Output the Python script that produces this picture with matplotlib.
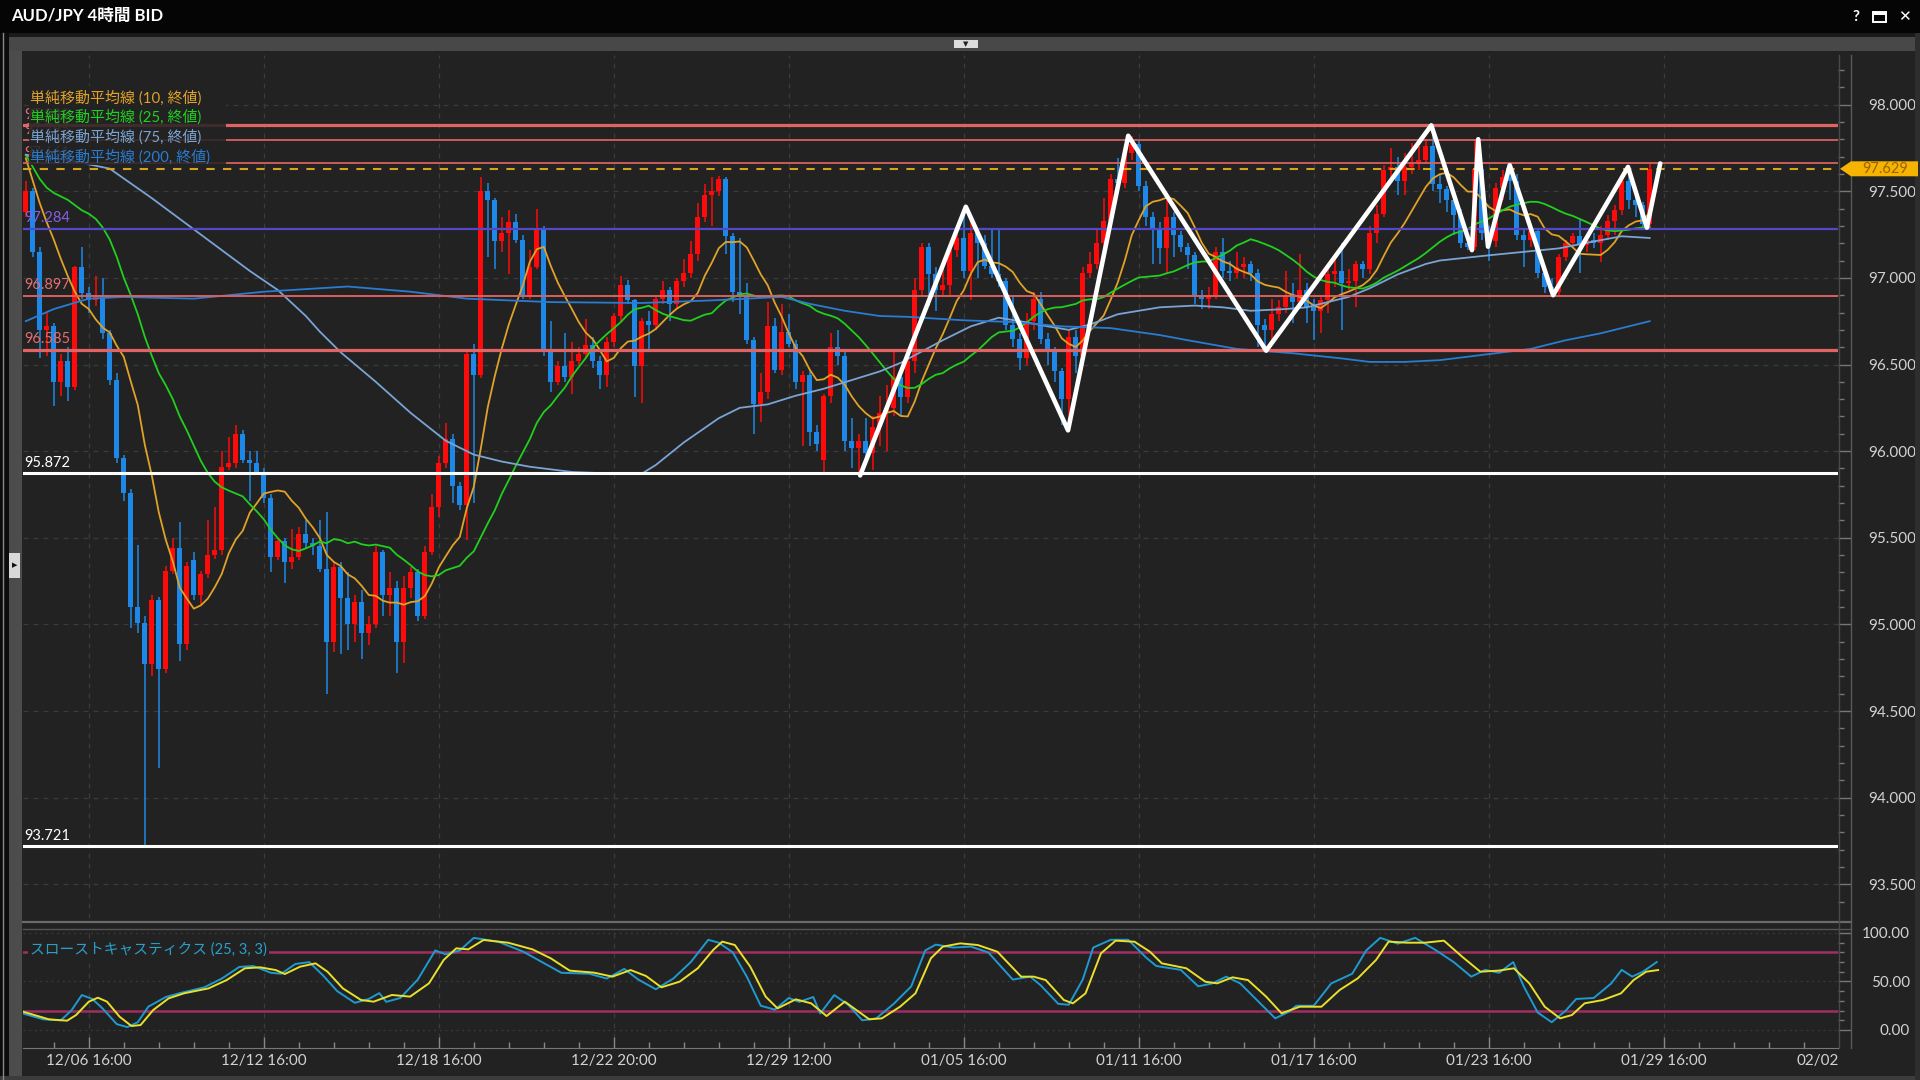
import numpy as np
import pandas as pd
import matplotlib
matplotlib.use("Agg")
import matplotlib.pyplot as plt
from matplotlib.patches import Rectangle, Polygon
from matplotlib.lines import Line2D

plt.rcParams['font.family'] = ['Lato', 'Noto Sans CJK JP', 'DejaVu Sans']

# ---------------- data (4H candles, index 0..232) ----------------
opens = [
    97.38, 97.50, 97.15, 96.70, 96.72, 96.40, 96.52, 96.37, 97.06, 96.91,
    96.87, 96.90, 96.68, 96.41, 95.96, 95.76, 95.10, 95.01, 94.77, 95.14,
    94.74, 95.31, 95.44, 94.89, 95.37, 95.17, 95.29, 95.40, 95.43, 95.91,
    95.93, 96.10, 95.95, 95.93, 95.88, 95.73, 95.39, 95.48, 95.36, 95.39,
    95.52, 95.47, 95.45, 95.32, 94.90, 95.33, 95.15, 95.00, 95.13, 94.95,
    95.00, 95.42, 95.17, 95.21, 94.90, 95.21, 95.30, 95.05, 95.42, 95.68,
    95.93, 96.07, 95.80, 95.69, 96.56, 96.44, 97.50, 97.45, 97.21, 97.26,
    97.32, 97.22, 96.90, 97.06, 97.29, 96.58, 96.40, 96.49, 96.43, 96.52,
    96.56, 96.61, 96.52, 96.44, 96.63, 96.78, 96.96, 96.87, 96.49, 96.75,
    96.73, 96.88, 96.93, 96.85, 96.98, 97.03, 97.14, 97.35, 97.48, 97.50,
    97.57, 97.24, 96.92, 96.89, 96.64, 96.27, 96.34, 96.72, 96.47, 96.69,
    96.62, 96.40, 96.44, 96.11, 95.95, 96.32, 96.60, 96.55, 96.06, 96.02,
    96.06, 95.99, 96.14, 96.22, 96.25, 96.43, 96.31, 96.52, 96.93, 97.18,
    97.02, 96.93, 96.96, 97.16, 97.23, 97.04, 97.26, 97.20, 97.07, 97.02,
    96.98, 96.73, 96.65, 96.54, 96.75, 96.88, 96.65, 96.57, 96.46, 96.30,
    96.66, 96.55, 97.03, 97.08, 97.20, 97.33, 97.57, 97.55, 97.72, 97.77,
    97.53, 97.35, 97.29, 97.17, 97.35, 97.25, 97.18, 97.13, 96.90, 96.88,
    96.90, 97.15, 97.04, 97.03, 97.06, 97.08, 97.03, 96.73, 96.70, 96.79,
    96.83, 96.90, 96.86, 96.93, 96.83, 96.81, 96.87, 97.02, 97.04, 96.97,
    96.98, 97.08, 97.05, 97.26, 97.37, 97.62, 97.64, 97.56, 97.64, 97.66,
    97.68, 97.76, 97.54, 97.51, 97.45, 97.36, 97.20, 97.18, 97.63, 97.26,
    97.21, 97.52, 97.58, 97.56, 97.25, 97.22, 97.27, 97.03, 96.95, 96.92,
    97.12, 97.20, 97.24, 97.19, 97.22, 97.20, 97.25, 97.33, 97.39, 97.56,
    97.45, 97.42, 97.31]
highs = [
    97.56, 97.52, 97.18, 96.80, 96.74, 96.56, 96.60, 97.07, 97.18, 96.95,
    97.01, 97.00, 96.70, 96.45, 95.98, 95.78, 95.46, 95.05, 95.17, 95.16,
    95.34, 95.50, 95.59, 95.36, 95.42, 95.31, 95.60, 95.68, 96.00, 96.08,
    96.15, 96.12, 96.00, 96.00, 95.90, 95.75, 95.50, 95.50, 95.55, 95.56,
    95.60, 95.50, 95.60, 95.65, 95.36, 95.36, 95.30, 95.17, 95.20, 95.05,
    95.45, 95.43, 95.30, 95.25, 95.28, 95.33, 95.32, 95.45, 95.75, 95.97,
    96.16, 96.10, 95.82, 96.58, 96.62, 97.58, 97.55, 97.46, 97.35, 97.39,
    97.37, 97.25, 97.16, 97.40, 97.30, 96.75, 96.52, 96.68, 96.63, 96.60,
    96.76, 96.66, 96.55, 96.66, 96.80, 97.01, 96.99, 96.88, 96.77, 96.81,
    96.90, 96.98, 96.95, 97.00, 97.11, 97.21, 97.43, 97.54, 97.58, 97.59,
    97.58, 97.26, 97.23, 96.97, 96.66, 96.45, 96.86, 96.77, 96.85, 96.79,
    96.64, 96.46, 96.46, 96.15, 96.33, 96.68, 96.70, 96.58, 96.19, 96.10,
    96.19, 96.20, 96.32, 96.38, 96.57, 96.46, 96.55, 97.00, 97.20, 97.20,
    97.06, 97.06, 97.20, 97.30, 97.40, 97.34, 97.28, 97.25, 97.28, 97.28,
    97.00, 96.90, 96.68, 96.80, 96.92, 96.92, 96.68, 96.60, 96.48, 96.70,
    96.70, 97.06, 97.15, 97.29, 97.46, 97.60, 97.69, 97.76, 97.82, 97.79,
    97.56, 97.38, 97.32, 97.45, 97.38, 97.27, 97.20, 97.15, 96.93, 96.95,
    97.18, 97.23, 97.10, 97.15, 97.12, 97.10, 97.05, 96.76, 96.88, 96.87,
    97.04, 96.97, 97.14, 96.97, 96.88, 96.90, 97.07, 97.12, 97.20, 97.05,
    97.10, 97.10, 97.30, 97.42, 97.65, 97.75, 97.70, 97.72, 97.78, 97.76,
    97.80, 97.88, 97.60, 97.53, 97.50, 97.40, 97.25, 97.80, 97.65, 97.30,
    97.55, 97.62, 97.65, 97.60, 97.28, 97.30, 97.29, 97.06, 97.00, 97.14,
    97.22, 97.26, 97.34, 97.25, 97.26, 97.30, 97.36, 97.42, 97.58, 97.64,
    97.48, 97.44, 97.66]
lows = [
    97.35, 97.12, 96.54, 96.55, 96.26, 96.32, 96.29, 96.35, 96.88, 96.80,
    96.84, 96.65, 96.38, 95.93, 95.71, 94.98, 94.95, 93.72, 94.70, 94.17,
    94.72, 95.29, 94.79, 94.85, 95.14, 95.12, 95.27, 95.38, 95.40, 95.89,
    95.90, 95.93, 95.71, 95.86, 95.70, 95.30, 95.37, 95.24, 95.32, 95.37,
    95.44, 95.40, 95.30, 94.60, 94.84, 94.83, 94.85, 94.90, 94.80, 94.88,
    94.98, 95.05, 95.05, 94.72, 94.78, 95.15, 95.02, 95.03, 95.40, 95.62,
    95.90, 95.70, 95.66, 95.49, 95.70, 96.42, 97.12, 97.05, 97.15, 97.02,
    97.20, 96.88, 96.88, 97.05, 96.55, 96.34, 96.38, 96.40, 96.33, 96.50,
    96.54, 96.48, 96.36, 96.37, 96.60, 96.75, 96.85, 96.31, 96.28, 96.58,
    96.70, 96.85, 96.75, 96.82, 96.95, 97.00, 97.10, 97.32, 97.30, 97.47,
    97.14, 96.86, 96.79, 96.62, 96.10, 96.17, 96.30, 96.45, 96.44, 96.60,
    96.36, 96.03, 96.03, 96.00, 95.87, 96.28, 96.50, 96.00, 95.90, 95.86,
    95.92, 95.89, 96.03, 96.00, 96.20, 96.20, 96.28, 96.45, 96.90, 96.84,
    96.81, 96.90, 96.90, 97.12, 97.00, 96.87, 97.00, 97.05, 97.00, 96.95,
    96.70, 96.60, 96.47, 96.50, 96.70, 96.62, 96.50, 96.40, 96.15, 96.12,
    96.45, 96.50, 97.00, 97.05, 97.18, 97.30, 97.50, 97.52, 97.68, 97.50,
    97.30, 97.08, 97.08, 97.03, 97.12, 97.15, 97.05, 96.85, 96.82, 96.82,
    96.88, 97.00, 96.98, 97.00, 97.00, 96.98, 96.60, 96.58, 96.62, 96.75,
    96.80, 96.74, 96.83, 96.74, 96.64, 96.68, 96.80, 96.95, 96.70, 96.93,
    96.83, 97.00, 97.02, 97.20, 97.35, 97.58, 97.48, 97.48, 97.60, 97.62,
    97.66, 97.50, 97.43, 97.38, 97.25, 97.17, 97.16, 97.16, 97.22, 97.10,
    97.18, 97.45, 97.45, 97.22, 97.06, 97.18, 97.00, 96.91, 96.90, 96.90,
    97.10, 97.18, 97.03, 97.15, 97.17, 97.09, 97.22, 97.25, 97.36, 97.40,
    97.35, 97.29, 97.29]
closes = [
    97.50, 97.15, 96.70, 96.72, 96.40, 96.52, 96.37, 97.06, 96.91, 96.87,
    96.90, 96.68, 96.41, 95.96, 95.76, 95.10, 95.01, 94.77, 95.14, 94.74,
    95.31, 95.44, 94.89, 95.34, 95.17, 95.29, 95.40, 95.43, 95.91, 95.93,
    96.10, 95.95, 95.93, 95.88, 95.73, 95.39, 95.48, 95.36, 95.39, 95.52,
    95.47, 95.45, 95.32, 94.90, 95.33, 95.15, 95.00, 95.13, 94.95, 95.00,
    95.42, 95.17, 95.21, 94.90, 95.21, 95.30, 95.05, 95.42, 95.68, 95.93,
    96.07, 95.80, 95.69, 96.56, 96.44, 97.50, 97.45, 97.21, 97.26, 97.32,
    97.22, 96.90, 97.06, 97.29, 96.58, 96.40, 96.49, 96.43, 96.52, 96.56,
    96.61, 96.52, 96.44, 96.63, 96.78, 96.96, 96.87, 96.49, 96.75, 96.73,
    96.88, 96.93, 96.85, 96.98, 97.03, 97.14, 97.35, 97.48, 97.50, 97.57,
    97.24, 96.92, 96.89, 96.64, 96.27, 96.34, 96.72, 96.47, 96.69, 96.62,
    96.40, 96.44, 96.11, 96.04, 96.32, 96.60, 96.55, 96.06, 96.02, 96.06,
    95.99, 96.14, 96.22, 96.25, 96.43, 96.31, 96.52, 96.93, 97.18, 97.02,
    96.93, 96.96, 97.16, 97.23, 97.04, 97.26, 97.20, 97.07, 97.02, 96.98,
    96.73, 96.65, 96.54, 96.75, 96.88, 96.65, 96.57, 96.46, 96.30, 96.66,
    96.55, 97.03, 97.08, 97.20, 97.33, 97.57, 97.55, 97.72, 97.77, 97.53,
    97.35, 97.29, 97.17, 97.35, 97.25, 97.18, 97.13, 96.90, 96.88, 96.90,
    97.15, 97.04, 97.03, 97.06, 97.08, 97.03, 96.73, 96.70, 96.79, 96.83,
    96.90, 96.86, 96.93, 96.83, 96.81, 96.87, 97.02, 97.04, 96.97, 96.98,
    97.08, 97.05, 97.26, 97.37, 97.62, 97.64, 97.56, 97.64, 97.66, 97.68,
    97.76, 97.54, 97.51, 97.45, 97.36, 97.20, 97.18, 97.63, 97.26, 97.21,
    97.52, 97.58, 97.56, 97.25, 97.22, 97.27, 97.03, 96.95, 96.92, 97.12,
    97.20, 97.24, 97.19, 97.22, 97.20, 97.25, 97.33, 97.39, 97.56, 97.45,
    97.42, 97.31, 97.63]

# moving averages: values before enough history
ma10_head = [97.69, 97.56, 97.43, 97.32, 97.22, 97.11, 97.01, 96.92, 96.85]
ma25_head = [97.71, 97.64, 97.57, 97.52, 97.49, 97.47, 97.45, 97.42, 97.39, 97.37,
             97.34, 97.29, 97.22, 97.12, 97.00, 96.90, 96.79, 96.66, 96.55, 96.45,
             96.38, 96.30, 96.20, 96.12]
ma75_points = [(0, 97.71), (6, 97.68), (12, 97.63), (18, 97.46), (23, 97.31), (28, 97.16),
               (32, 97.04), (36, 96.93), (40, 96.78), (42, 96.69), (45, 96.57), (50, 96.40),
               (55, 96.22), (60, 96.06), (64, 95.98), (68, 95.94), (72, 95.91), (78, 95.88),
               (84, 95.87), (88, 95.87), (90, 95.92), (94, 96.05), (99, 96.19), (102, 96.25),
               (106, 96.27), (110, 96.32), (114, 96.36), (118, 96.41), (122, 96.46), (125, 96.51),
               (131, 96.64), (135, 96.72), (139, 96.77), (142, 96.75), (146, 96.72), (149, 96.70),
               (152, 96.73), (156, 96.79), (162, 96.83), (167, 96.84), (171, 96.83), (175, 96.81),
               (180, 96.82), (183, 96.83), (186, 96.86), (189, 96.89), (192, 96.94), (196, 97.02),
               (200, 97.08), (202, 97.10), (209, 97.13), (214, 97.15), (219, 97.17), (224, 97.21),
               (228, 97.24), (232, 97.23)]
ma200_points = [(0, 96.75), (4, 96.82), (9, 96.88), (14, 96.89), (24, 96.88), (34, 96.92),
                (46, 96.95), (55, 96.92), (63, 96.88), (75, 96.86), (88, 96.855), (98, 96.87),
                (108, 96.89), (112, 96.85), (117, 96.81), (122, 96.78), (126, 96.775), (134, 96.755),
                (141, 96.745), (148, 96.72), (155, 96.71), (162, 96.67), (166, 96.64), (173, 96.59),
                (181, 96.565), (188, 96.535), (192, 96.515), (197, 96.515), (202, 96.525), (209, 96.56),
                (215, 96.59), (220, 96.64), (225, 96.68), (232, 96.75)]

# slow stochastics (25,3,3): %K and %D
stoch_d_points = [(-0.4, 18.9), (3.3, 11.0), (5.9, 9.6), (7.2, 15.5), (9.0, 29.2), (10.3, 33.3),
                  (11.6, 29.2), (13.4, 13.7), (15.1, 4.1), (16.4, 5.1), (18.2, 20.6), (20.4, 32.6),
                  (22.6, 37.8), (26.1, 42.9), (28.7, 51.5), (31.3, 63.6), (33.5, 64.6), (35.7, 61.8),
                  (37.0, 57.7), (39.2, 65.3), (41.4, 68.7), (43.1, 60.1), (45.3, 42.9), (47.9, 30.9),
                  (49.7, 29.2), (52.3, 36.1), (54.9, 34.4), (57.6, 48.1), (59.7, 72.2), (61.5, 84.2),
                  (63.2, 83.1), (65.4, 92.8), (68.9, 90.0), (72.4, 83.1), (75.0, 73.9), (77.7, 61.2),
                  (81.2, 59.1), (83.8, 55.0), (86.4, 61.8), (88.6, 55.7), (90.8, 44.0), (93.4, 49.8),
                  (96.0, 63.6), (98.2, 82.5), (99.5, 91.1), (101.3, 87.6), (103.5, 65.3), (105.7, 34.4),
                  (107.4, 22.3), (110.0, 31.6), (112.2, 27.5), (114.4, 14.4), (117.0, 29.2), (120.5, 11.0),
                  (122.3, 12.0), (124.9, 24.0), (127.1, 37.8), (129.3, 73.9), (131.0, 85.9), (133.5, 89.3),
                  (136.0, 87.6), (138.8, 80.7), (142.2, 55.0), (144.0, 55.0), (145.7, 51.5), (148.3, 30.9),
                  (149.6, 27.5), (151.4, 37.8), (153.6, 79.0), (155.7, 92.1), (158.4, 91.0), (160.6, 80.7),
                  (162.3, 68.7), (165.8, 63.6), (168.5, 49.8), (170.2, 48.1), (172.4, 54.3), (174.6, 51.5),
                  (177.2, 34.4), (179.4, 17.2), (182.0, 24.0), (185.1, 24.0), (187.7, 41.2), (190.3, 53.3),
                  (192.9, 72.2), (194.7, 91.1), (197.3, 90.0), (199.9, 90.0), (202.6, 92.1), (205.2, 75.6),
                  (207.8, 60.1), (210.4, 61.2), (212.6, 63.6), (214.8, 48.1), (217.0, 24.0), (219.2, 12.0),
                  (220.9, 15.5), (222.7, 27.5), (225.3, 30.9), (227.9, 37.8), (229.7, 51.5), (231.5, 60.1),
                  (233.2, 61.8)]
stoch_k_points = [(-0.4, 17), (2.5, 11), (5, 10), (6.5, 20), (8, 36), (9.5, 32), (11, 22), (13, 6),
                  (14.5, 3), (16, 8), (17.5, 24), (20, 34), (22, 38), (25.5, 44), (28, 53), (30.5, 65),
                  (32.5, 66), (35, 59), (36.5, 58), (38.5, 68), (40.5, 70), (42.5, 56), (44.5, 40),
                  (47, 28), (49, 32), (50.5, 38), (51.5, 29), (53.5, 33), (56, 52), (58.5, 82), (60, 78),
                  (62, 82), (64, 95), (67.5, 91), (71, 81), (74, 69), (76.5, 59), (80.5, 58), (83, 53),
                  (85.5, 63), (87.5, 52), (90, 42), (92.5, 53), (95, 70), (97.5, 93), (99, 90), (101, 80),
                  (103, 55), (105, 25), (107, 21), (109, 33), (110.5, 29), (112.5, 34), (113.5, 17),
                  (115.5, 36), (117.5, 26), (119.5, 10), (121.5, 12), (124, 27), (126.5, 45), (128.5, 82),
                  (130, 88), (132.5, 85), (135, 86), (137.5, 80), (141, 52), (143.5, 55), (145, 46),
                  (147.5, 27), (149, 26), (151, 52), (152.5, 85), (155, 93), (157.5, 93), (160, 75),
                  (161.5, 66), (165, 62), (167.5, 45), (169.5, 48), (171.5, 55), (173.5, 48), (176, 30),
                  (178.5, 12), (180.5, 19), (181.5, 25), (184, 25), (186.5, 48), (189.5, 58), (191.5, 82),
                  (193.5, 95), (196, 89), (198.5, 95), (201.5, 82), (204, 70), (206.5, 55), (208.5, 62),
                  (210.5, 59), (212.5, 70), (214, 45), (216, 18), (218, 8), (220, 20), (221.5, 32),
                  (224, 33), (226.5, 48), (228, 62), (229.5, 55), (231, 60), (233, 70)]

# hand drawn zigzag
zigzag_points = [(119.2, 95.86), (134.3, 97.41), (148.9, 96.12), (157.5, 97.82), (177.2, 96.58),
                 (200.8, 97.88), (206.6, 97.16), (207.5, 97.80), (208.9, 97.18), (212.0, 97.65),
                 (218.2, 96.90), (228.9, 97.64), (231.6, 97.29), (233.5, 97.66)]

# horizontal level lines
level_values = [97.882, 97.795, 97.661, 97.284, 96.897, 96.585, 95.872, 93.721]
last_price = 97.629

price_ticks = [93.5, 94.0, 94.5, 95.0, 95.5, 96.0, 96.5, 97.0, 97.5, 98.0]
stoch_ticks = [0, 50, 100]
stoch_levels = [20, 80]
x_tick_idx = [9, 34, 59, 84, 109, 134, 159, 184, 209, 234]
x_tick_labels = ['12/06 16:00', '12/12 16:00', '12/18 16:00', '12/22 20:00', '12/29 12:00',
                 '01/05 16:00', '01/11 16:00', '01/17 16:00', '01/23 16:00', '01/29 16:00']
last_label_idx = 256
last_label = '02/02'
legend_names = ['単純移動平均線 (10, 終値)', '単純移動平均線 (25, 終値)',
                '単純移動平均線 (75, 終値)', '単純移動平均線 (200, 終値)']
stoch_name = 'スローストキャスティクス (25, 3, 3)'
title = 'AUD/JPY 4時間 BID'

# ---------------- styling ----------------
W, H = 1920, 1080
def fx(x): return x / W
def fy(y): return 1 - y / H

BG = '#222222'
GRID = '#3b3b3b'
RED = '#ff0a0a'
BLUE = '#1e88e8'
SALMON = '#e06464'
C10, C25, C75, C200 = '#e0a228', '#1fd01f', '#7aa4d4', '#2a7cd0'

fig = plt.figure(figsize=(19.2, 10.8), dpi=100, facecolor=BG)

# ---------- main price panel ----------
ax = fig.add_axes([fx(23), fy(918), fx(1838) - fx(23), fy(55) - fy(918)])
ax.set_facecolor(BG)
XL = (-0.4, 258.9)
ax.set_xlim(*XL)
ax.set_ylim(93.306, 98.286)
for s in ax.spines.values():
    s.set_visible(False)

for p in price_ticks:
    ax.axhline(p, color=GRID, lw=0.9, ls=(0, (4, 4)), zorder=0.5)
for t in x_tick_idx:
    ax.axvline(t, color=GRID, lw=0.9, ls=(0, (4, 4)), zorder=0.5)

o = np.array(opens); h = np.array(highs); l = np.array(lows); c = np.array(closes)
idx = np.arange(len(c))
cols = np.where(c >= o, RED, BLUE)
ax.vlines(idx, l, h, colors=cols, lw=1.1, zorder=2)
ax.bar(idx, np.maximum(np.abs(c - o), 0.012), bottom=np.minimum(o, c), width=0.74,
       color=cols, edgecolor='none', zorder=2.1)

cs = pd.Series(closes)
ma10 = cs.rolling(10).mean().to_numpy()
ma10[:len(ma10_head)] = ma10_head
ma25 = cs.rolling(25).mean().to_numpy()
ma25[:len(ma25_head)] = ma25_head
ax.plot(idx, ma10, color=C10, lw=1.3, zorder=3)
ax.plot(idx, ma25, color=C25, lw=1.3, zorder=3)
m75x, m75y = zip(*ma75_points)
m200x, m200y = zip(*ma200_points)
ax.plot(m75x, m75y, color=C75, lw=1.3, zorder=3)
ax.plot(m200x, m200y, color=C200, lw=1.3, zorder=3)

level_styles = [(SALMON, 2.3), ('#d86060', 1.3), ('#d86060', 1.3), ('#5548c8', 1.6),
                ('#d86060', 1.4), (SALMON, 2.3), ('#ffffff', 2.2), ('#ffffff', 2.2)]
label_colors = ['#e07070', '#e07070', '#e07070', '#8a5ce0', '#e07070', '#e07070', '#ffffff', '#ffffff']
for v, (col, lw), lc in zip(level_values, level_styles, label_colors):
    ax.axhline(v, color=col, lw=lw, zorder=4)
    ax.annotate(f'{v:.3f}', xy=(0.0008, v), xycoords=ax.get_yaxis_transform(),
                xytext=(0, 2.5), textcoords='offset points', ha='left', va='bottom',
                color=lc, fontsize=10.5, zorder=6)
ax.axhline(last_price, color='#d9a21b', lw=1.5, ls=(0, (4, 4)), zorder=4)

zx, zp = zip(*zigzag_points)
ax.plot(zx, zp, color='white', lw=3.3, solid_joinstyle='round', solid_capstyle='round', zorder=7)

ax.yaxis.tick_right()
ax.set_yticks(price_ticks)
ax.set_yticklabels([f'{p:.3f}' for p in price_ticks])
ax.set_yticks(np.arange(93.4, 98.3, 0.1), minor=True)
ax.tick_params(axis='y', which='major', direction='out', length=9, width=1, color='#777777',
               labelcolor='#d2d2d2', labelsize=11, pad=12.5)
ax.tick_params(axis='y', which='minor', direction='out', length=4.5, width=1, color='#777777')
ax.tick_params(axis='x', which='both', bottom=False, labelbottom=False)

# ---------- stochastics panel ----------
ax2 = fig.add_axes([fx(23), fy(1048), fx(1838) - fx(23), fy(929) - fy(1048)])
ax2.set_facecolor(BG)
ax2.set_xlim(*XL)
ax2.set_ylim(-18.56, 104.12)
for k, s in ax2.spines.items():
    s.set_visible(k == 'bottom')
ax2.spines['bottom'].set_color('#777777')
for v in stoch_ticks:
    ax2.axhline(v, color=GRID, lw=0.9, ls=(0, (1.5, 3)), zorder=0.5)
for t in x_tick_idx:
    ax2.axvline(t, color=GRID, lw=0.9, ls=(0, (4, 4)), zorder=0.5)
for v in stoch_levels:
    ax2.axhline(v, color='#a02e62', lw=1.8, zorder=1)
kx, kv = zip(*stoch_k_points)
dx, dv = zip(*stoch_d_points)
ax2.plot(kx, kv, color='#1e9ad0', lw=1.4, zorder=3)
ax2.plot(dx, dv, color='#e8e02a', lw=1.4, zorder=3.1)
ax2.text(0.0039, 0.824, stoch_name, transform=ax2.transAxes, color='#2aa0c8', fontsize=10.6,
         va='center', ha='left', zorder=5,
         bbox=dict(facecolor=BG, edgecolor='none', pad=1.5))

ax2.yaxis.tick_right()
ax2.set_yticks(stoch_ticks)
ax2.set_yticklabels(['0.00', '50.00', '100.00'])
ax2.set_yticks(np.arange(0, 101, 10), minor=True)
ax2.tick_params(axis='y', which='major', direction='out', length=9, width=1, color='#777777',
                labelcolor='#d2d2d2', labelsize=11, pad=43)
ax2.tick_params(axis='y', which='minor', direction='out', length=4.5, width=1, color='#777777')
for lbl in ax2.get_yticklabels():
    lbl.set_ha('right')

ax2.set_xticks(x_tick_idx)
ax2.set_xticklabels(x_tick_labels)
ax2.set_xticks(np.arange(4, 259, 5), minor=True)
ax2.tick_params(axis='x', which='major', direction='in', length=8, width=1, color='#888888',
                labelcolor='#d2d2d2', labelsize=11, pad=4)
ax2.tick_params(axis='x', which='minor', direction='in', length=4, width=1, color='#888888')
ax2.annotate(last_label, xy=(last_label_idx, 0), xycoords=ax2.get_xaxis_transform(),
             xytext=(0, -4), textcoords='offset points', ha='center', va='top',
             color='#d2d2d2', fontsize=11)

# ---------- window chrome ----------
def frect(x0, y0, x1, y1, color, z=0, alpha=1.0):
    fig.add_artist(Rectangle((fx(x0), fy(y1)), fx(x1) - fx(x0), fy(y0) - fy(y1),
                             transform=fig.transFigure, facecolor=color, edgecolor='none',
                             zorder=z, alpha=alpha))

def fline(x0, y0, x1, y1, color, lw=1.0, z=5):
    fig.add_artist(Line2D([fx(x0), fx(x1)], [fy(y0), fy(y1)], transform=fig.transFigure,
                          color=color, lw=lw, zorder=z))

frect(0, 0, 1920, 33, '#050505', z=5)
frect(0, 33, 1920, 37, '#1a1a1a', z=5)
frect(8, 37, 1915, 51, '#484848', z=5)
frect(954, 40, 978, 48, '#dcdcdc', z=6)
fig.text(fx(966), fy(44.5), '▼', color='#202020', fontsize=5, ha='center', va='center',
         family=['DejaVu Sans'], zorder=7)
frect(0, 33, 9, 1080, '#0c0c0c', z=5)
fline(3, 33, 3, 1080, '#8a8a8a', lw=1.0, z=6)
frect(9, 51, 22, 1080, '#4c4c4c', z=5)
frect(9, 553, 20, 578, '#d8d8d8', z=6)
fig.text(fx(14.5), fy(565.5), '▶', color='#101010', fontsize=5, ha='center', va='center',
         family=['DejaVu Sans'], zorder=7)
frect(0, 1076, 1920, 1080, '#3c3c3c', z=5)
frect(1915, 33, 1920, 1080, '#2e2e2e', z=5)

fig.text(fx(11), fy(16), title, color='white', fontsize=12, fontweight='bold',
         va='center', ha='left', zorder=8)
fig.text(fx(1856), fy(17), '?', color='white', fontsize=11, fontweight='bold',
         va='center', ha='center', zorder=8)
fig.add_artist(Rectangle((fx(1873), fy(22)), fx(13), 10 / H, transform=fig.transFigure,
                         facecolor='none', edgecolor='white', lw=1.4, zorder=8))
frect(1873, 12, 1886, 15, 'white', z=8)
fig.text(fx(1904), fy(17), '✕', color='white', fontsize=11, fontweight='bold',
         va='center', ha='center', family=['DejaVu Sans'], zorder=8)

fline(23, 921.5, 1851, 921.5, '#6a6a6a', lw=1.6)
fline(23, 929, 1851, 929, '#555555', lw=1.0)
fline(1838.5, 55, 1838.5, 1048, '#4a4a4a', lw=1.0)
fline(1851, 55, 1851, 1048, '#5a5a5a', lw=1.0)

# price tag
tag_y = 168.8
fig.add_artist(Polygon([(fx(1840), fy(tag_y)), (fx(1851), fy(tag_y - 7.5)), (fx(1918), fy(tag_y - 7.5)),
                        (fx(1918), fy(tag_y + 7.5)), (fx(1851), fy(tag_y + 7.5))],
                       closed=True, transform=fig.transFigure, facecolor='#f6b400',
                       edgecolor='none', zorder=8))
fig.text(fx(1885), fy(tag_y + 0.5), f'{last_price:.3f}', color='#9a6200', fontsize=10.5,
         ha='center', va='center', zorder=9)

# legend block
frect(29, 86, 226, 165, BG, z=6, alpha=0.85)
for name, col, yy in zip(legend_names, [C10, C25, C75, C200], [98, 117.5, 137.5, 157]):
    fig.text(fx(30), fy(yy), name, color=col, fontsize=10.8, ha='left', va='center', zorder=7)

fig.savefig('out.png', dpi=100, facecolor=BG)
